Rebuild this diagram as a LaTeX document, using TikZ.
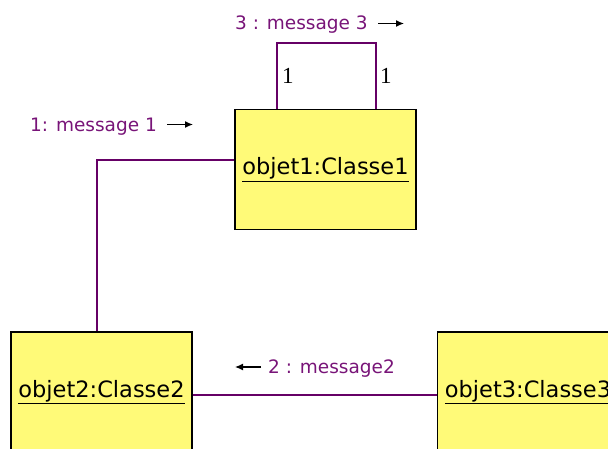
\documentclass[tikz,border=0pt]{standalone}
\usepackage{fontspec}
\setmainfont{DejaVu Sans}
\newfontfamily\mult{Liberation Serif}
\usetikzlibrary{arrows.meta}
\definecolor{objfill}{RGB}{255,250,120}
\definecolor{umlpurple}{RGB}{102,0,102}
\definecolor{msgpurple}{RGB}{120,20,120}

\begin{document}
\begin{tikzpicture}[x=1pt,y=-1pt,
  object/.style={draw=black,line width=1.3pt,fill=objfill,minimum width=181pt,
    minimum height=120pt,inner sep=0pt,font=\fontsize{22.5}{24}\selectfont},
  link/.style={draw=umlpurple,line width=1.6pt},
  msg/.style={text=msgpurple,inner sep=0pt,anchor=base west,font=\fontsize{18.5}{20}\selectfont},
  msgarrow/.style={draw=black,line width=1.3pt,-{Latex[length=8pt,width=7pt]}},
  multi/.style={inner sep=0pt,anchor=base west,font=\mult\fontsize{23}{24}\selectfont}]
  \clip (0,0) rectangle (608,449);
  \useasboundingbox (0,0) rectangle (608,449);
  \node[object] (obj1) at (325.5,169.5) {\underline{objet1:Classe1}};
  \node[object] (obj2) at (101.5,392) {\underline{objet2:Classe2}};
  \node[object] (obj3) at (528,392) {\underline{objet3:Classe3}};
  \draw[link] ([yshift=9.5pt]obj1.west) -| ([xshift=-4.5pt]obj2.north);
  \draw[link] ([yshift=-3pt]obj2.east) -- ([yshift=-3pt]obj3.west);
  \draw[link] ([xshift=-48.5pt]obj1.north) -- ++(0,-66) -| ([xshift=50.5pt]obj1.north);
  \node[multi] (mul1) at (282,84) {1};
  \node[multi] (mul2) at (380,84) {1};
  \node[msg] (m1) at (30,132) {1: message 1};
  \draw[msgarrow] (167,124.5) -- (193,124.5);
  \node[msg] (m3) at (235,30) {3 : message 3};
  \draw[msgarrow] (378,23.5) -- (404,23.5);
  \node[msg] (m2) at (268,373) {2 : message2};
  \draw[msgarrow] (261,367) -- (235,367);
\end{tikzpicture}
\end{document}
